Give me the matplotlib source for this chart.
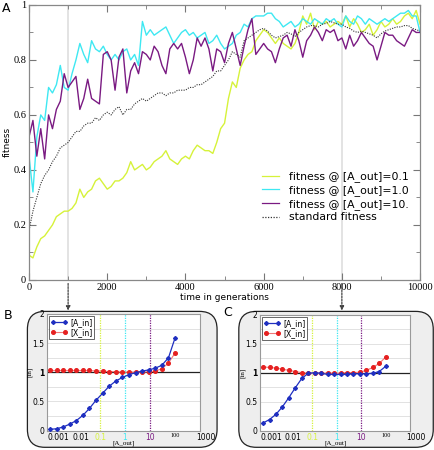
import matplotlib
matplotlib.use('Agg')
import matplotlib.pyplot as plt
from matplotlib.patches import FancyBboxPatch
from matplotlib.transforms import ScaledTranslation
import numpy as np

# ---------------- data: main panel A ----------------
generations = list(range(0, 10001, 100))

fit_01 = [0.09, 0.08, 0.12, 0.15, 0.16, 0.18, 0.20, 0.23, 0.24, 0.25,
          0.25, 0.26, 0.28, 0.33, 0.30, 0.32, 0.33, 0.36, 0.37, 0.35,
          0.33, 0.34, 0.36, 0.36, 0.37, 0.39, 0.43, 0.40, 0.41, 0.42,
          0.40, 0.41, 0.43, 0.44, 0.45, 0.47, 0.44, 0.43, 0.42, 0.44,
          0.45, 0.44, 0.47, 0.49, 0.48, 0.47, 0.47, 0.46, 0.50, 0.55,
          0.57, 0.66, 0.72, 0.70, 0.77, 0.80, 0.82, 0.83, 0.87, 0.89,
          0.91, 0.90, 0.88, 0.86, 0.88, 0.86, 0.85, 0.84, 0.86, 0.90,
          0.96, 0.93, 0.97, 0.91, 0.94, 0.93, 0.94, 0.92, 0.93, 0.94,
          0.93, 0.96, 0.92, 0.95, 0.93, 0.90, 0.91, 0.93, 0.89, 0.91,
          0.94, 0.92, 0.93, 0.95, 0.93, 0.94, 0.96, 0.97, 0.95, 0.98,
          0.93]

fit_10 = [0.45, 0.32, 0.52, 0.60, 0.58, 0.70, 0.68, 0.71, 0.78, 0.70,
          0.69, 0.75, 0.80, 0.86, 0.82, 0.79, 0.87, 0.84, 0.83, 0.85,
          0.82, 0.80, 0.82, 0.80, 0.83, 0.84, 0.80, 0.82, 0.78, 0.94,
          0.89, 0.91, 0.89, 0.90, 0.91, 0.92, 0.89, 0.86, 0.88, 0.90,
          0.91, 0.89, 0.90, 0.88, 0.89, 0.90, 0.86, 0.87, 0.89, 0.86,
          0.84, 0.85, 0.86, 0.89, 0.90, 0.93, 0.92, 0.95, 0.96, 0.96,
          0.96, 0.97, 0.97, 0.95, 0.94, 0.92, 0.93, 0.94, 0.92, 0.93,
          0.95, 0.94, 0.93, 0.95, 0.94, 0.93, 0.95, 0.94, 0.95, 0.93,
          0.92, 0.96, 0.94, 0.93, 0.96, 0.95, 0.93, 0.95, 0.94, 0.93,
          0.94, 0.95, 0.94, 0.95, 0.96, 0.97, 0.97, 0.98, 0.96, 0.96,
          0.90]

fit_100 = [0.52, 0.58, 0.45, 0.55, 0.44, 0.60, 0.55, 0.62, 0.65, 0.75,
           0.70, 0.72, 0.74, 0.62, 0.66, 0.73, 0.66, 0.65, 0.64, 0.82,
           0.83, 0.80, 0.69, 0.81, 0.84, 0.68, 0.76, 0.79, 0.75, 0.83,
           0.82, 0.80, 0.85, 0.83, 0.78, 0.75, 0.84, 0.86, 0.84, 0.86,
           0.81, 0.75, 0.80, 0.88, 0.85, 0.88, 0.84, 0.76, 0.84, 0.83,
           0.79, 0.86, 0.90, 0.84, 0.78, 0.85, 0.91, 0.95, 0.82, 0.84,
           0.86, 0.84, 0.83, 0.79, 0.84, 0.88, 0.89, 0.85, 0.91, 0.87,
           0.81, 0.87, 0.89, 0.92, 0.90, 0.87, 0.91, 0.90, 0.91, 0.87,
           0.88, 0.84, 0.89, 0.85, 0.87, 0.90, 0.88, 0.86, 0.85, 0.80,
           0.85, 0.90, 0.89, 0.89, 0.87, 0.86, 0.85, 0.88, 0.91, 0.90,
           0.90]

fit_std = [0.18, 0.25, 0.30, 0.35, 0.38, 0.40, 0.43, 0.45, 0.48, 0.49,
           0.50, 0.52, 0.54, 0.54, 0.56, 0.57, 0.57, 0.59, 0.58, 0.60,
           0.61, 0.60, 0.62, 0.63, 0.60, 0.62, 0.62, 0.64, 0.65, 0.66,
           0.65, 0.66, 0.67, 0.68, 0.68, 0.67, 0.68, 0.68, 0.69, 0.69,
           0.69, 0.70, 0.70, 0.71, 0.71, 0.72, 0.73, 0.74, 0.76, 0.76,
           0.78, 0.80, 0.83, 0.82, 0.81, 0.87, 0.88, 0.89, 0.90, 0.91,
           0.915, 0.905, 0.89, 0.88, 0.885, 0.89, 0.90, 0.895, 0.885, 0.90,
           0.91, 0.92, 0.925, 0.925, 0.92, 0.93, 0.933, 0.94, 0.935, 0.93,
           0.93, 0.92, 0.915, 0.905, 0.90, 0.905, 0.90, 0.895, 0.89, 0.88,
           0.895, 0.905, 0.91, 0.915, 0.92, 0.92, 0.925, 0.925, 0.915, 0.91,
           0.905]

series_labels = ["fitness @ [A_out]=0.1", "fitness @ [A_out]=1.0",
                 "fitness @ [A_out]=10.", "standard fitness"]
main_xticks = [0, 2000, 4000, 6000, 8000, 10000]
main_yticks = [0, 0.2, 0.4, 0.6, 0.8, 1.0]
main_yticklabels = ["0", "0.2", "0.4", "0.6", "0.8", "1"]
snapshots = [1000, 8000]

# ---------------- data: insets B and C ----------------
a_out = list(np.logspace(-3, 2, 20))
B_A_in = [0.02, 0.03, 0.06, 0.11, 0.17, 0.26, 0.38, 0.52, 0.64, 0.76,
          0.85, 0.91, 0.96, 0.99, 1.02, 1.04, 1.07, 1.12, 1.25, 1.59]
B_X_in = [1.03, 1.03, 1.03, 1.03, 1.03, 1.03, 1.03, 1.02, 1.02, 1.01,
          1.01, 1.00, 1.00, 1.00, 1.00, 1.01, 1.02, 1.06, 1.16, 1.33]
C_A_in = [0.13, 0.19, 0.28, 0.41, 0.57, 0.74, 0.90, 0.99, 1.00, 0.99,
          0.97, 0.97, 0.97, 0.97, 0.98, 0.98, 0.98, 0.99, 1.02, 1.11]
C_X_in = [1.10, 1.09, 1.08, 1.06, 1.04, 1.02, 1.00, 0.99, 0.99, 0.99,
          0.99, 0.99, 0.99, 1.00, 1.00, 1.01, 1.04, 1.09, 1.16, 1.27]
inset_xticks = [0.001, 0.01, 0.1, 1, 10, 100, 1000]
inset_xticklabels = ["0.001", "0.01", "0.1", "1", "10", "100", "1000"]
inset_yticks = [0, 0.5, 1, 1.5, 2]
inset_yticklabels = ["0", "0.5", "1", "1.5", "2"]
marker_levels = [0.1, 1, 10]

# ---------------- styles ----------------
c_yel = '#d6f23a'
c_cyan = '#3ee8f2'
c_purp = '#7a1a82'
c_blue = '#1f2fc0'
c_red = '#e52020'
serif = 'Liberation Serif'

fig = plt.figure(figsize=(4.35, 4.5), dpi=100)

# rounded boxes behind insets
for (x0, w) in [(0.063, 0.436), (0.549, 0.447)]:
    box = FancyBboxPatch((x0, 0.006), w, 0.302,
                         boxstyle='round,pad=0,rounding_size=0.04',
                         transform=fig.transFigure, facecolor='#eeeeee',
                         edgecolor='#222222', lw=0.9, zorder=-5)
    fig.patches.append(box)

ax = fig.add_axes([0.0667, 0.378, 0.899, 0.611])
for t in snapshots:
    ax.axvline(t, color='#e3e3e3', lw=1.4, zorder=0)
ax.plot(generations, fit_01, color=c_yel, lw=1.0, label=series_labels[0])
ax.plot(generations, fit_10, color=c_cyan, lw=1.0, label=series_labels[1])
ax.plot(generations, fit_100, color=c_purp, lw=1.0, label=series_labels[2])
ax.plot(generations, fit_std, color='#333333', lw=0.8, ls=(0, (1, 1.2)),
        label=series_labels[3])
ax.set_xlim(0, 10000)
ax.set_ylim(0, 1)
ax.set_xticks(main_xticks)
ax.set_xticks(range(0, 10001, 1000), minor=True)
ax.set_yticks(main_yticks)
ax.set_yticklabels(main_yticklabels)
ax.set_yticks(np.arange(0, 1.01, 0.1), minor=True)
ax.tick_params(which='both', direction='in', top=True, right=True,
               color='#777777', labelsize=7.5, pad=2)
ax.tick_params(which='major', length=5)
ax.tick_params(which='minor', length=3)
for lab in ax.get_xticklabels() + ax.get_yticklabels():
    lab.set_fontfamily(serif)
for s in ax.spines.values():
    s.set_color('#888888')
    s.set_linewidth(0.9)
ax.set_xlabel('time in generations', fontsize=6.5, labelpad=1)
ax.set_ylabel('fitness', fontsize=6.5, labelpad=1)
leg = ax.legend(loc='upper left', bbox_to_anchor=(0.585, 0.41), frameon=False,
                fontsize=7.8, handlelength=1.6, handletextpad=0.9,
                labelspacing=0.25, borderaxespad=0)
for h in leg.get_lines():
    h.set_linewidth(0.9)

fig.text(0.005, 0.982, 'A', fontsize=9, va='center')
fig.text(0.008, 0.298, 'B', fontsize=9, va='center')
fig.text(0.513, 0.306, 'C', fontsize=9, va='center')

# arrows from snapshots
for t in snapshots:
    ax.annotate('', xy=(t, 0.31), xycoords=('data', 'figure fraction'),
                xytext=(t, 0.37), textcoords=('data', 'figure fraction'),
                arrowprops=dict(arrowstyle='-|>', color='#444444', lw=0.9,
                                ls=(0, (1.5, 1)), mutation_scale=6,
                                shrinkA=0, shrinkB=0))

# small rightward nudges of some inset tick labels (points)
label_nudge = [6, 4, 0, 0, 0, 0, 4]


def inset(rect, a_in, x_in):
    ia = fig.add_axes(rect)
    ia.set_xscale('log')
    ia.set_xlim(7.6e-4, 1000)
    ia.set_ylim(0, 2)
    for yv in np.arange(0.25, 2.0, 0.25):
        if abs(yv - 1) > 1e-6:
            ia.axhline(yv, color='#dddddd', lw=0.6, zorder=0)
    ia.axhline(1, color='#222222', lw=0.9, zorder=1)
    for lvl, col in zip(marker_levels, [c_yel, c_cyan, c_purp]):
        ia.axvline(lvl, color=col, lw=0.9, ls=(0, (1, 1)), zorder=1)
    ia.plot(a_out, a_in, color=c_blue, lw=0.9, marker='D', ms=2.0,
            label='[A_in]', zorder=3)
    ia.plot(a_out, x_in, color='#f07878', lw=0.8, marker='o', ms=2.6,
            mfc=c_red, mec=c_red, label='[X_in]', zorder=2)
    ia.set_xticks(inset_xticks)
    ia.set_xticklabels(inset_xticklabels)
    ia.xaxis.set_minor_locator(matplotlib.ticker.NullLocator())
    ia.set_yticks(inset_yticks)
    ia.set_yticklabels(inset_yticklabels)
    ia.tick_params(length=0, labelsize=5.5, pad=2)
    labs = ia.get_xticklabels()
    labs[2].set_color(c_yel)
    labs[3].set_color(c_cyan)
    labs[4].set_color(c_purp)
    labs[5].set_fontfamily(serif)
    labs[5].set_fontsize(4.5)
    for lab, dx in zip(labs, label_nudge):
        if dx:
            lab.set_transform(lab.get_transform() +
                              ScaledTranslation(dx / 72, 0, fig.dpi_scale_trans))
    ia.get_yticklabels()[2].set_fontweight('bold')
    for s in ia.spines.values():
        s.set_color('#999999')
        s.set_linewidth(0.8)
    ia.set_xlabel('[A_out]', fontfamily=serif, fontsize=5, labelpad=-1)
    ia.set_ylabel('[in]', fontfamily=serif, fontsize=5, labelpad=0)
    lg = ia.legend(loc='upper left', fontsize=5.5, numpoints=2,
                   handlelength=2.2, handletextpad=0.3, labelspacing=0.15,
                   borderpad=0.25, borderaxespad=0.25, fancybox=False)
    lg.get_frame().set_edgecolor('#222222')
    lg.get_frame().set_linewidth(0.6)
    return ia


inset([0.108, 0.0433, 0.352, 0.259], B_A_in, B_X_in)
inset([0.598, 0.0433, 0.345, 0.257], C_A_in, C_X_in)

fig.savefig('out.png', dpi=100)
